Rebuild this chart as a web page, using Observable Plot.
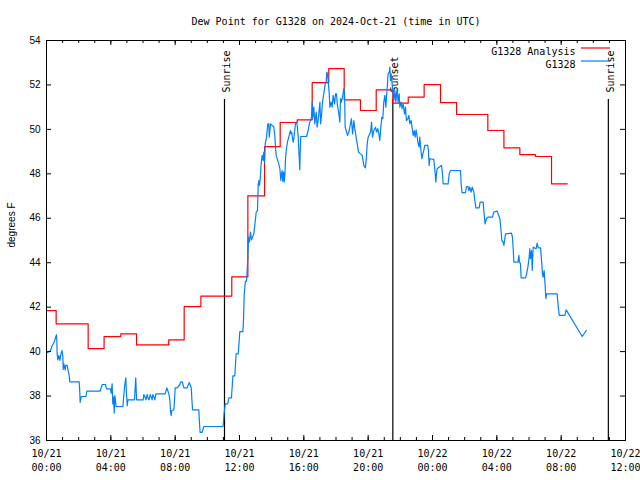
<!DOCTYPE html>
<html><head><meta charset="utf-8">
<script src="https://cdn.jsdelivr.net/npm/d3@7"></script>
<script src="https://cdn.jsdelivr.net/npm/@observablehq/plot@0.6"></script>
<style>body{margin:0;background:#fff} svg{display:block}</style>
</head><body><div id="chart"></div>
<script>
const title = "Dew Point for G1328 on 2024-Oct-21 (time in UTC)";
const yLabel = "degrees F";
const startUTC = "2024-10-21T00:00:00Z";
const spanHours = 36;
const seriesNames = ["G1328 Analysis", "G1328"];
const seriesColors = ["#ff0000", "#0080ff"];
const yTicks = [36, 38, 40, 42, 44, 46, 48, 50, 52, 54];

// Analysis (stepped), hours since start
const analysisHours = [0, 0.6, 2.59, 3.58, 4.62, 5.6, 7.6, 8.56, 9.6, 11.52, 12.52, 13.56, 14.53, 15.59, 16.52, 17.55, 18.51, 19.52, 20.5, 21.53, 22.49, 23.48, 24.5, 25.5, 27.44, 28.44, 29.43, 30.4, 31.4, 32.38];
const analysisValues = [41.84, 41.25, 40.13, 40.67, 40.8, 40.3, 40.53, 42.02, 42.5, 43.36, 47.01, 49.22, 50.31, 50.43, 52.1, 52.73, 51.33, 50.85, 51.78, 51.18, 51.45, 52.01, 51.2, 50.67, 49.95, 49.17, 48.86, 48.78, 47.55, 47.55];

// Observations, hours since start
const obsHours = [0.04,0.25,0.33,0.50,0.62,0.64,0.66,0.70,0.77,0.83,0.91,0.97,1.02,1.04,1.08,1.16,1.20,1.29,1.33,1.41,1.45,2.03,2.07,2.09,2.16,2.45,2.51,3.34,3.46,3.67,3.73,3.98,4.02,4.08,4.12,4.17,4.21,4.25,4.33,4.75,4.85,4.93,4.97,5.02,5.06,5.47,5.51,5.55,5.60,6.01,
6.05,6.11,6.18,6.26,6.32,6.38,6.45,6.51,6.57,6.61,6.69,6.74,6.80,7.38,7.48,7.54,7.61,7.67,7.71,7.75,7.79,7.92,7.96,8.00,8.12,8.29,8.35,8.44,8.54,8.75,8.87,9.00,9.04,9.08,9.47,9.51,9.55,9.68,9.78,10.98,11.03,11.11,11.27,
11.34,11.50,11.59,11.71,11.79,11.92,12.02,12.21,12.25,12.29,12.37,12.44,12.52,12.56,12.62,12.68,12.75,12.89,12.95,13.04,13.12,13.16,13.20,13.24,13.29,13.33,13.37,13.41,13.47,13.51,13.55,13.60,13.68,13.72,13.76,13.82,13.85,13.89,13.93,14.03,14.13,14.20,14.24,14.28,14.44,14.51,14.57,14.61,14.65,14.69,14.74,14.78,14.82,14.86,14.92,14.98,15.09,15.17,15.21,15.25,15.30,15.34,15.38,15.42,15.48,15.54,15.59,15.65,15.69,15.75,15.77,15.81,16.17,16.27,16.35,16.48,
16.52,16.56,16.62,16.68,16.77,16.83,16.89,17.00,17.04,17.10,17.16,17.24,17.33,17.39,17.43,17.47,17.51,17.58,17.62,17.70,17.76,17.82,17.91,17.97,18.03,18.09,18.18,18.24,18.28,18.34,18.42,18.49,18.53,18.57,18.63,18.72,18.80,18.90,18.96,19.03,19.11,19.17,19.25,19.32,19.40,19.52,19.63,19.73,19.83,19.90,19.94,20.00,20.15,20.21,20.27,20.35,20.46,20.52,20.60,20.68,20.72,20.79,20.85,20.91,20.97,21.04,21.10,21.14,21.20,21.24,21.31,21.35,21.39,21.43,21.49,
21.60,21.66,21.72,21.80,21.86,21.93,21.97,22.05,22.11,22.18,22.26,22.32,22.38,22.47,22.53,22.59,22.67,22.74,22.80,22.86,22.92,22.98,23.05,23.11,23.17,23.21,23.28,23.34,23.40,23.46,23.52,23.71,23.75,23.79,23.83,24.08,24.15,24.21,24.25,24.29,24.56,24.62,24.66,24.97,25.04,25.12,25.74,25.78,25.84,26.05,26.11,26.20,26.26,26.32,26.40,26.47,26.57,26.63,26.70,26.90,26.96,27.15,27.19,27.27,27.36,27.44,27.73,27.81,28.02,28.08,28.19,28.27,28.31,28.39,28.44,28.48,28.54,28.91,28.97,29.02,29.06,29.31,29.37,29.41,29.47,29.51,29.78,29.85,29.93,30.01,30.05,30.09,30.16,30.20,30.26,30.44,30.51,30.57,30.72,30.78,30.84,30.88,30.94,31.01,31.05,31.09,31.75,31.81,31.88,32.23,32.31,33.31,33.56];
const obsValues = [39.95,40.05,40.23,40.47,40.76,40.58,39.93,39.63,39.83,39.60,39.93,40.05,39.75,39.20,39.45,39.18,39.38,39.38,39.18,38.93,38.64,38.64,38.17,37.72,37.98,37.98,38.22,38.22,38.52,38.52,38.32,38.32,38.13,38.55,37.65,37.95,37.23,38.02,37.53,37.53,38.40,38.82,38.17,37.57,37.83,37.83,38.32,38.82,37.83,37.83,
38.07,37.98,37.83,38.07,37.90,37.83,38.07,37.95,37.83,38.07,37.95,37.83,38.10,38.10,38.37,38.25,38.10,37.83,37.35,37.12,37.35,37.38,37.83,38.37,38.37,38.52,38.64,38.64,38.37,38.37,38.61,38.37,37.83,37.38,37.38,36.82,36.37,36.37,36.63,36.63,37.12,37.65,37.65,
37.92,37.92,38.91,38.91,39.90,39.90,40.90,40.90,41.43,42.53,43.17,43.17,44.25,45.15,44.93,45.38,45.03,45.30,45.68,46.28,46.35,47.48,47.70,47.48,47.78,48.30,48.60,48.83,48.60,48.98,48.53,49.35,49.65,49.95,50.25,50.25,49.65,49.95,50.25,50.18,50.13,49.65,49.20,48.83,48.45,48.23,47.70,48.00,48.15,47.67,48.08,47.63,47.93,48.68,49.13,49.43,49.73,49.95,49.80,49.87,49.58,49.43,49.58,49.87,50.25,50.33,50.18,49.65,49.05,48.18,48.90,49.68,49.68,49.95,50.28,50.55,
51.23,50.55,51.00,50.25,50.78,50.10,50.40,51.23,50.25,50.63,51.23,51.60,52.05,52.13,52.58,52.50,52.20,51.60,51.00,51.23,51.00,51.53,51.15,51.60,51.60,51.08,50.70,50.33,51.38,51.23,51.53,51.83,51.68,50.10,49.95,49.73,49.88,50.25,50.48,49.80,50.40,50.03,49.65,49.35,48.98,48.90,48.83,48.38,48.27,48.83,49.35,49.65,49.88,50.33,49.65,49.95,50.10,49.88,50.03,49.73,49.50,50.10,50.55,50.48,51.23,51.53,51.00,51.45,52.05,52.50,52.58,52.80,52.20,52.50,52.05,
51.30,51.75,51.23,51.83,51.23,51.60,51.00,51.23,50.93,51.15,50.70,51.00,50.40,50.48,50.63,50.25,50.40,50.03,49.73,49.95,49.65,49.98,49.65,49.35,49.20,49.65,49.05,48.68,48.90,49.05,49.28,49.28,48.98,48.38,48.68,48.65,48.15,47.63,48.00,48.23,48.38,48.00,47.55,47.55,48.00,48.15,48.15,47.55,47.15,47.15,47.43,47.43,47.25,47.40,47.18,47.40,47.18,46.80,46.47,46.47,46.73,46.73,46.35,45.75,45.98,46.05,46.05,46.28,46.32,46.20,45.98,45.38,45.00,44.93,44.78,45.00,45.30,45.33,45.15,44.58,44.03,44.03,44.33,44.03,43.95,43.32,43.32,43.50,43.80,44.25,44.63,44.18,44.55,43.65,44.70,44.63,44.88,44.67,44.67,44.10,43.50,43.35,43.65,42.90,42.38,42.60,42.60,42.08,41.63,41.63,41.88,40.68,40.95];

const sunLabels = ["Sunrise", "Sunset", "Sunrise"];
const sunTimes = ["2024-10-21T11:04:00Z", "2024-10-21T21:32:00Z", "2024-10-22T10:56:00Z"];

const t0 = new Date(startUTC);
const toDate = h => new Date(+t0 + h * 3600e3);
const analysis = analysisHours.map((h, i) => ({t: toDate(h), v: analysisValues[i]}));
const obs = obsHours.map((h, i) => ({t: toDate(h), v: obsValues[i]}));
const sun = sunLabels.map((l, i) => ({label: l, t: new Date(sunTimes[i])}));
const minorTicks = d3.range(0, spanHours + 1, 1).map(toDate);
const majorTicks = d3.range(0, spanHours + 1, 4).map(toDate);
const fmt = d3.utcFormat("%m/%d\n%H:%M");
const mono = "DejaVu Sans Mono";
const sans = "Liberation Sans";

const svg = Plot.plot({
  width: 640, height: 480,
  marginLeft: 46, marginRight: 15, marginTop: 40, marginBottom: 40,
  style: {background: "white", color: "black"},
  x: {type: "utc", domain: [toDate(0), toDate(spanHours)]},
  y: {domain: [36, 54]},
  marks: [
    Plot.ruleX(sun, {x: "t", insetTop: 59, strokeWidth: 1.2}),
    Plot.text(sun, {x: "t", text: "label", frameAnchor: "top", dy: 52, dx: 2, rotate: -90, textAnchor: "start", lineAnchor: "middle", fontFamily: mono, fontSize: 10}),
    Plot.line(analysis, {x: "t", y: "v", curve: "step-after", stroke: seriesColors[0], strokeWidth: 1.2}),
    Plot.line(obs, {x: "t", y: "v", stroke: seriesColors[1], strokeWidth: 1.2}),
    Plot.frame({strokeWidth: 1}),
    Plot.tickX(minorTicks, {x: d => d, insetTop: 397}),
    Plot.tickX(minorTicks, {x: d => d, insetBottom: 397}),
    Plot.tickX(majorTicks, {x: d => d, insetTop: 395}),
    Plot.tickX(majorTicks, {x: d => d, insetBottom: 395}),
    Plot.tickY(yTicks, {y: d => d, insetRight: 574}),
    Plot.tickY(yTicks, {y: d => d, insetLeft: 574}),
    Plot.axisX(majorTicks, {tickSize: 0, tickPadding: 7, tickFormat: fmt, fontFamily: mono, fontSize: 10, lineHeight: 1.4, label: null}),
    Plot.axisY(yTicks, {tickSize: 0, tickPadding: 6, fontFamily: sans, fontSize: 10, label: null}),
    Plot.text([title], {frameAnchor: "top", dy: -23, fontFamily: mono, fontSize: 10}),
    Plot.text([yLabel], {frameAnchor: "left", dx: -35, dy: 7, rotate: -90, fontFamily: sans, fontSize: 10}),
    Plot.text([seriesNames[0]], {frameAnchor: "top-right", dx: -50, dy: 7, textAnchor: "end", fontFamily: mono, fontSize: 10}),
    Plot.text([seriesNames[1]], {frameAnchor: "top-right", dx: -50, dy: 20, textAnchor: "end", fontFamily: mono, fontSize: 10})
  ]
});
const g = d3.select(svg).append("g");
seriesColors.forEach((c, i) => {
  g.append("line").attr("x1", 581).attr("x2", 610).attr("y1", 48 + 13 * i).attr("y2", 48 + 13 * i)
    .attr("stroke", c).attr("stroke-width", 1.2);
});
document.getElementById("chart").appendChild(svg);
</script>
</body></html>
